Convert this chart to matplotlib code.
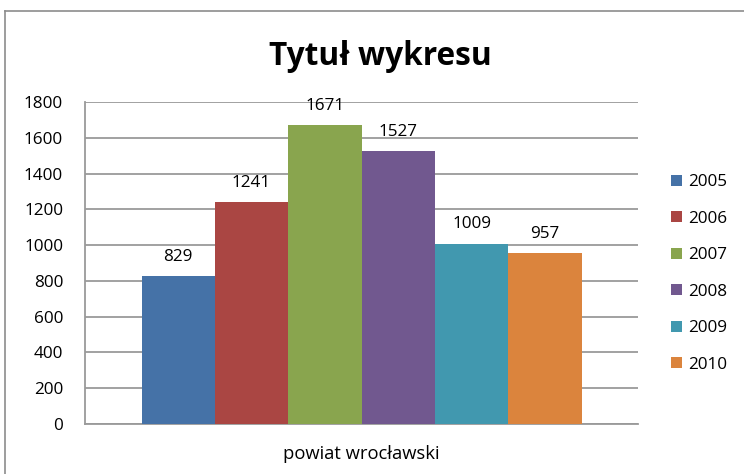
import matplotlib.pyplot as plt
from matplotlib.lines import Line2D

years = ['2005', '2006', '2007', '2008', '2009', '2010']
values = [829, 1241, 1671, 1527, 1009, 957]
colors = ['#4572a7', '#aa4643', '#89a54e', '#71588f', '#4198af', '#db843d']
category = 'powiat wrocławski'
yticks = [0, 200, 400, 600, 800, 1000, 1200, 1400, 1600, 1800]

plt.rcParams['font.family'] = ['Open Sans', 'DejaVu Sans']

W, H = 744, 474
fig = plt.figure(figsize=(W / 100, H / 100), dpi=100)

# ramka wykresu (ucięta z prawej i z dołu)
fig.add_artist(Line2D([5 / W, 5 / W], [0, 1 - 11 / H], color='#8c8c8c', lw=1.2))
fig.add_artist(Line2D([5 / W, 1], [1 - 11 / H, 1 - 11 / H], color='#8c8c8c', lw=1.2))

ax = fig.add_axes([85 / W, 1 - 424 / H, (638 - 85) / W, (424 - 102) / H])

w = (440 / 553) / len(values)
for i, (yr, v, c) in enumerate(zip(years, values, colors)):
    x = (i - (len(values) - 1) / 2) * w
    ax.bar(x, v, width=w, color=c, label=yr, zorder=3)
    ax.annotate(str(v), (x, v), xytext=(0, 8), textcoords='offset points',
                ha='center', va='bottom', fontsize=12.3)

ax.set_xlim(-0.5, 0.5)
ax.set_ylim(0, 1800)
ax.set_yticks(yticks)
ax.set_xticks([0])
ax.set_xticklabels([category])
ax.tick_params(axis='both', length=0, labelsize=12.3)
ax.tick_params(axis='x', pad=15, labelsize=13.2)
ax.tick_params(axis='y', pad=15.8)
ax.grid(axis='y', color='#9a9a9a', lw=1.3, zorder=0)
for s in ['top', 'right']:
    ax.spines[s].set_visible(False)
ax.spines['left'].set_color('#9a9a9a')
ax.spines['bottom'].set_color('#9a9a9a')
ax.spines['left'].set_linewidth(1.3)
ax.spines['bottom'].set_linewidth(1.3)

fig.text(380 / W, 1 - 65 / H, 'Tytuł wykresu', ha='center', va='baseline',
         fontsize=22.8, fontweight='bold')

fig.legend(loc='center left', bbox_to_anchor=(664 / W, 1 - 273.5 / H), frameon=False,
           fontsize=12.3, handlelength=0.65, handleheight=0.65, handletextpad=0.35,
           labelspacing=1.2, borderaxespad=0)

fig.savefig('out.png', dpi=100)
